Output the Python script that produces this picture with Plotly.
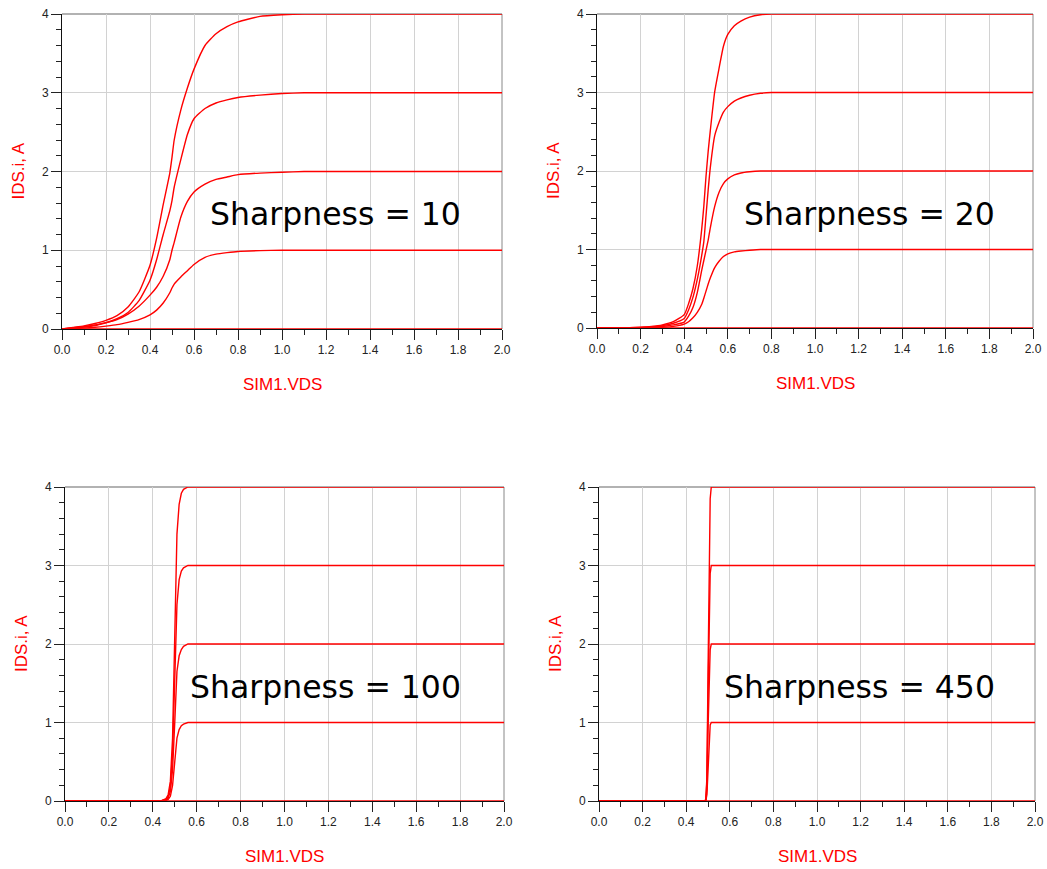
import plotly.graph_objects as go

# ---------------- data ----------------
vds_s10 = [0, 0.05, 0.1, 0.15, 0.2, 0.25, 0.3, 0.35, 0.4, 0.43, 0.46, 0.49, 0.5, 0.51,
           0.54, 0.57, 0.6, 0.65, 0.7, 0.75, 0.8, 0.9, 1.0, 1.1, 1.2, 1.6, 2.0]
ids4_s10 = [0, 0.02, 0.04, 0.07, 0.11, 0.17, 0.28, 0.47, 0.81, 1.15, 1.58, 1.98, 2.18, 2.40,
            2.78, 3.06, 3.30, 3.60, 3.75, 3.84, 3.90, 3.97, 3.99, 4.0, 4.0, 4.0, 4.0]
ids3_s10 = [0, 0.015, 0.03, 0.05, 0.08, 0.13, 0.21, 0.36, 0.62, 0.88, 1.20, 1.50, 1.63, 1.80,
            2.15, 2.47, 2.67, 2.80, 2.87, 2.91, 2.94, 2.97, 2.99, 3.0, 3.0, 3.0, 3.0]
ids2_s10 = [0, 0.01, 0.025, 0.045, 0.08, 0.12, 0.19, 0.29, 0.43, 0.53, 0.67, 0.88, 1.0, 1.10,
            1.42, 1.62, 1.74, 1.84, 1.90, 1.93, 1.96, 1.98, 1.99, 2.0, 2.0, 2.0, 2.0]
ids1_s10 = [0, 0.005, 0.012, 0.022, 0.037, 0.055, 0.085, 0.12, 0.18, 0.24, 0.33, 0.46, 0.52, 0.57,
            0.66, 0.74, 0.82, 0.91, 0.95, 0.97, 0.985, 0.995, 1.0, 1.0, 1.0, 1.0, 1.0]

vds_s20 = [0, 0.1, 0.2, 0.25, 0.3, 0.35, 0.4, 0.42, 0.44, 0.46, 0.48, 0.49, 0.5, 0.51, 0.52,
           0.54, 0.56, 0.58, 0.6, 0.63, 0.66, 0.7, 0.75, 0.8, 0.9, 1.0, 2.0]
ids4_s20 = [0, 0, 0.01, 0.02, 0.04, 0.08, 0.17, 0.31, 0.50, 0.79, 1.25, 1.55, 1.93, 2.25, 2.52,
            3.01, 3.31, 3.59, 3.74, 3.85, 3.91, 3.96, 3.99, 4.0, 4.0, 4.0, 4.0]
ids3_s20 = [0, 0, 0.008, 0.015, 0.03, 0.06, 0.12, 0.23, 0.39, 0.62, 0.92, 1.10, 1.43, 1.76, 2.05,
            2.45, 2.62, 2.75, 2.82, 2.89, 2.93, 2.965, 2.99, 3.0, 3.0, 3.0, 3.0]
ids2_s20 = [0, 0, 0.005, 0.01, 0.02, 0.04, 0.075, 0.15, 0.26, 0.45, 0.73, 0.86, 0.99, 1.12, 1.28,
            1.55, 1.73, 1.84, 1.90, 1.95, 1.975, 1.99, 2.0, 2.0, 2.0, 2.0, 2.0]
ids1_s20 = [0, 0, 0.003, 0.006, 0.01, 0.02, 0.05, 0.08, 0.13, 0.20, 0.30, 0.38, 0.47, 0.56, 0.64,
            0.77, 0.85, 0.91, 0.945, 0.97, 0.98, 0.99, 1.0, 1.0, 1.0, 1.0, 1.0]

vds_s100 = [0, 0.4, 0.44, 0.46, 0.47, 0.48, 0.49, 0.5, 0.505, 0.51, 0.52, 0.53, 0.54, 0.56, 0.6, 2.0]
ids4_s100 = [0, 0, 0.005, 0.03, 0.08, 0.25, 0.8, 2.1, 2.8, 3.4, 3.78, 3.92, 3.97, 4.0, 4.0, 4.0]
ids3_s100 = [0, 0, 0.004, 0.02, 0.06, 0.18, 0.6, 1.55, 2.1, 2.5, 2.82, 2.93, 2.97, 3.0, 3.0, 3.0]
ids2_s100 = [0, 0, 0.003, 0.015, 0.04, 0.12, 0.4, 1.0, 1.4, 1.65, 1.85, 1.93, 1.97, 2.0, 2.0, 2.0]
ids1_s100 = [0, 0, 0.001, 0.008, 0.02, 0.06, 0.2, 0.5, 0.68, 0.8, 0.91, 0.96, 0.98, 1.0, 1.0, 1.0]

vds_s450 = [0, 0.485, 0.49, 0.495, 0.5, 0.505, 0.51, 0.515, 0.52, 2.0]
ids4_s450 = [0, 0, 0.02, 0.3, 1.6, 3.0, 3.85, 4.0, 4.0, 4.0]
ids3_s450 = [0, 0, 0.015, 0.25, 1.3, 2.4, 2.9, 3.0, 3.0, 3.0]
ids2_s450 = [0, 0, 0.01, 0.15, 0.9, 1.6, 1.93, 2.0, 2.0, 2.0]
ids1_s450 = [0, 0, 0.005, 0.08, 0.45, 0.8, 0.97, 1.0, 1.0, 1.0]

vds_zero = [0, 2.0]
ids_zero = [0, 0]

sharpness_labels = ["Sharpness = 10", "Sharpness = 20", "Sharpness = 100", "Sharpness = 450"]
x_tick_vals = [0.0, 0.2, 0.4, 0.6, 0.8, 1.0, 1.2, 1.4, 1.6, 1.8, 2.0]
y_tick_vals = [0, 1, 2, 3, 4]
x_title = "SIM1.VDS"
y_title = "IDS.i, A"

panels = [
    (vds_s10, [ids4_s10, ids3_s10, ids2_s10, ids1_s10], "spline"),
    (vds_s20, [ids4_s20, ids3_s20, ids2_s20, ids1_s20], "spline"),
    (vds_s100, [ids4_s100, ids3_s100, ids2_s100, ids1_s100], "linear"),
    (vds_s450, [ids4_s450, ids3_s450, ids2_s450, ids1_s450], "linear"),
]

# ---------------- layout geometry ----------------
W, H = 1047, 869
# pixel boxes (left, right, top, bottom)
boxes = [(62, 502, 14, 329), (597, 1033, 14, 328), (65, 504, 487, 801), (599, 1035, 487, 801)]
label_pos = [(1.241, 1.46), (1.248, 1.45), (1.187, 1.456), (1.195, 1.456)]

RED = "#ff0000"
fig = go.Figure()
layout = dict(width=W, height=H, margin=dict(l=0, r=0, t=0, b=0),
              paper_bgcolor="white", plot_bgcolor="white", showlegend=False)
annotations = []
shapes = []

for k, ((xs, ys_list, shape), box) in enumerate(zip(panels, boxes)):
    n = "" if k == 0 else str(k + 1)
    xa, ya = "x" + n, "y" + n
    for ys in ys_list + [None]:
        if ys is None:
            xx, yy = vds_zero, ids_zero
        else:
            xx, yy = xs, ys
        tr = go.Scatter(x=xx, y=yy, mode="lines", xaxis=xa, yaxis=ya,
                        line=dict(color=RED, width=1.4, shape=shape,
                                  smoothing=0.5 if shape == "spline" else None),
                        hoverinfo="skip")
        fig.add_trace(tr)
    l, r, t, b = box
    layout["xaxis" + n] = dict(
        domain=[l / W, r / W], anchor=ya, range=[0, 2], showgrid=True,
        gridcolor="#d2d2d2", gridwidth=1, tickvals=x_tick_vals, tickformat=".1f",
        ticks="outside", ticklen=10, tickcolor="#222", tickwidth=1,
        minor=dict(dtick=0.1, tick0=0, ticks="outside", ticklen=5, tickcolor="#222", showgrid=False),
        showline=True, linecolor="#111", linewidth=1, zeroline=False,
        tickfont=dict(family="Liberation Sans, Arial", size=12, color="#222"),
        automargin=False, fixedrange=True)
    layout["yaxis" + n] = dict(
        domain=[1 - b / H, 1 - t / H], anchor=xa, range=[0, 4], showgrid=True,
        gridcolor="#d2d2d2", gridwidth=1, tickvals=y_tick_vals,
        ticks="outside", ticklen=10, tickcolor="#222", tickwidth=1,
        minor=dict(dtick=0.2, tick0=0, ticks="outside", ticklen=5, tickcolor="#222", showgrid=False),
        showline=True, linecolor="#111", linewidth=1, zeroline=False,
        tickfont=dict(family="Liberation Sans, Arial", size=12, color="#222"),
        automargin=False, fixedrange=True)
    # top and right frame lines
    shapes.append(dict(type="line", xref=xa + " domain", yref=ya + " domain",
                       x0=0, x1=1, y0=1, y1=1, line=dict(color="#666", width=1.2), layer="below"))
    shapes.append(dict(type="line", xref=xa + " domain", yref=ya + " domain",
                       x0=1, x1=1, y0=0, y1=1, line=dict(color="#888", width=1), layer="below"))
    # sharpness label
    lx, ly = label_pos[k]
    annotations.append(dict(x=lx, y=ly, xref=xa, yref=ya, text=sharpness_labels[k],
                            showarrow=False, xanchor="center", yanchor="middle",
                            font=dict(family="DejaVu Sans", size=31.5, color="black")))
    # axis titles
    annotations.append(dict(x=(l + r) / 2 / W, y=1 - (b + 55) / H, xref="paper", yref="paper",
                            text=x_title, showarrow=False, xanchor="center", yanchor="middle",
                            font=dict(family="Liberation Sans, Arial", size=17, color=RED)))
    annotations.append(dict(x=(l - 44) / W, y=1 - ((t + b) / 2) / H, xref="paper", yref="paper",
                            text=y_title, showarrow=False, xanchor="center", yanchor="middle",
                            textangle=-90,
                            font=dict(family="Liberation Sans, Arial", size=17, color=RED)))

layout["annotations"] = annotations
layout["shapes"] = shapes
fig.update_layout(**layout)
fig.write_html("out.html",
               post_script="document.body.style.margin='0';document.body.style.padding='0';")
